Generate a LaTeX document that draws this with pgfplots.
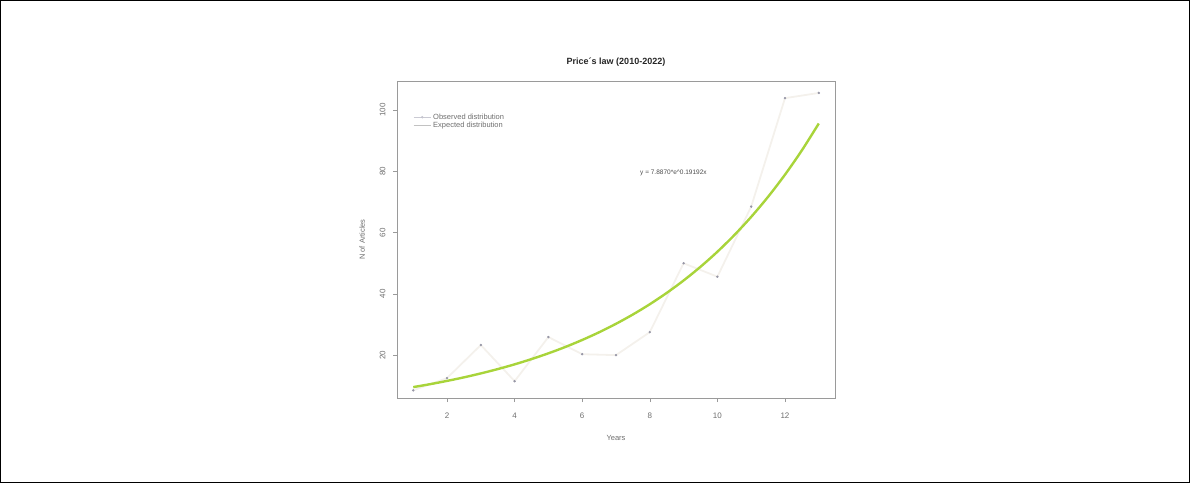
\documentclass[border=0pt]{standalone}
\usepackage{fontspec}
\setmainfont{Liberation Sans}
\usepackage{pgfplots}
\pgfplotsset{compat=1.18}
\definecolor{fitgreen}{HTML}{A8D43A}
\definecolor{obsline}{HTML}{F4F1EC}
\definecolor{obsmark}{HTML}{9696A6}
\definecolor{frame}{HTML}{9A9A9A}
\definecolor{txt}{HTML}{6E6E6E}

\begin{document}
\begin{tikzpicture}
% whole figure is 1190 x 483 (1px = 1pt)
\useasboundingbox (0,0) rectangle (1190pt,483pt);
\draw[black,line width=0.8pt] (0.4pt,0.4pt) rectangle (1189.6pt,482.6pt);
\begin{axis}[
  at={(397pt,85pt)}, anchor=south west,
  scale only axis, width=438pt, height=317pt,
  xmin=0.52, xmax=13.48, ymin=6, ymax=109.5,
  xtick={2,4,...,12}, ytick={20,40,...,100},
  tick align=outside, tick pos=left,
  major tick length=4pt,
  axis line style={draw=frame,line width=0.8pt},
  tick style={draw=frame,line width=0.6pt},
  ticklabel style={font=\fontsize{8}{9}\selectfont,text=txt},
  /pgf/number format/assume math mode=true,
  yticklabel style={rotate=90,anchor=south,yshift=4pt},
  xticklabel style={yshift=-7pt},
  xlabel={Years}, ylabel={N of Articles},
  label style={font=\fontsize{7.5}{9}\selectfont,text=txt},
  xlabel style={yshift=-10pt},
  ylabel style={yshift=8pt},
  title={\textbf{Price´s law (2010-2022)}},
  title style={font=\fontsize{9}{10}\selectfont,text=black!85,yshift=5pt},
  legend style={draw=none,fill=none,at={(0.03,0.91)},anchor=north west,
    font=\fontsize{7.5}{8.5}\selectfont,text=txt,row sep=-2.5pt},
  legend cell align=left,
  clip=false]
  % legend entries
  \addlegendimage{obsmark!50,line width=0.6pt,mark=*,mark size=0.9pt,mark options={fill=obsmark}}
  \addlegendentry{Observed distribution}
  \addlegendimage{frame!60,line width=0.8pt}
  \addlegendentry{Expected distribution}
  % observed distribution
  \addplot[obsline,line width=1.8pt,forget plot] coordinates {
    (1,8.5) (2,12.5) (3,23.3) (4,11.5) (5,25.9) (6,20.3) (7,20)
    (8,27.5) (9,50) (10,45.6) (11,68.5) (12,103.9) (13,105.6)};
  \addplot[only marks,mark=*,mark size=1pt,color=obsmark,forget plot] coordinates {
    (1,8.5) (2,12.5) (3,23.3) (4,11.5) (5,25.9) (6,20.3) (7,20)
    (8,27.5) (9,50) (10,45.6) (11,68.5) (12,103.9) (13,105.6)};
  % expected distribution (fitted exponential)
  \addplot[fitgreen,line width=2.4pt,smooth,forget plot] coordinates {
    (1,9.56) (1.5,10.52) (2,11.58) (2.5,12.74) (3,14.03) (3.5,15.44)
    (4,16.99) (4.5,18.71) (5,20.59) (5.5,22.66) (6,24.95) (6.5,27.46)
    (7,30.23) (7.5,33.27) (8,36.62) (8.5,40.31) (9,44.37) (9.5,48.84)
    (10,53.76) (10.5,59.18) (11,65.14) (11.5,71.70) (12,78.92)
    (12.5,86.87) (13,95.62)};
  \node[font=\fontsize{6.5}{7.5}\selectfont,text=black!70] at (axis cs:8.7,79.5)
    {y = 7.8870*e\textasciicircum 0.19192x};
\end{axis}
\end{tikzpicture}
\end{document}
